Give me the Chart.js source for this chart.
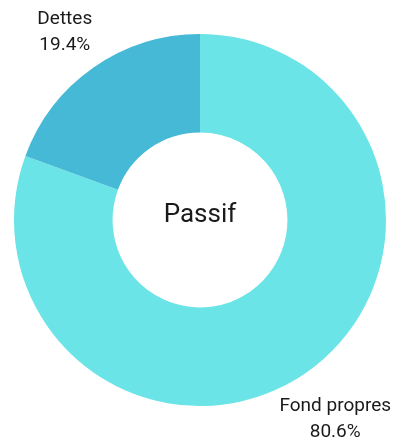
<!DOCTYPE html>
<html>
<head>
<meta charset="utf-8">
<script src="https://cdn.jsdelivr.net/npm/chart.js@4"></script>
<style>
  html, body { margin: 0; padding: 0; background: #fff; }
  #wrap { width: 402px; height: 446px; }
</style>
</head>
<body>
<div id="wrap"><canvas id="graficoPassif"></canvas></div>
<script>
const etiquetas = ['Fond propres', 'Dettes'];
const valores = [80.6, 19.4];
const colores = ['#6be4e7', '#45b9d6'];
const titreCentre = 'Passif';

const fuente = 'Roboto, "DejaVu Sans", sans-serif';

// texte au centre + etiquettes exterieures
const pluginTextes = {
  id: 'textes',
  afterDraw(chart) {
    const ctx = chart.ctx;
    const meta = chart.getDatasetMeta(0);
    ctx.save();
    ctx.fillStyle = '#1a1a1a';
    ctx.textAlign = 'center';
    ctx.textBaseline = 'middle';

    const arc0 = meta.data[0];
    ctx.font = '26px ' + fuente;
    ctx.fillText(titreCentre, arc0.x, arc0.y - 5);

    ctx.font = '19px ' + fuente;
    meta.data.forEach((arc, i) => {
      const p = arc.getProps(['x', 'y', 'startAngle', 'endAngle', 'outerRadius'], true);
      const mid = (p.startAngle + p.endAngle) / 2;
      const r = p.outerRadius * 1.27;
      const lx = p.x + Math.cos(mid) * r;
      const ly = p.y + Math.sin(mid) * r + 6;
      ctx.fillText(etiquetas[i], lx, ly - 13);
      ctx.fillText(valores[i].toFixed(1) + '%', lx, ly + 13);
    });
    ctx.restore();
  }
};

new Chart(document.getElementById('graficoPassif'), {
  type: 'doughnut',
  data: {
    labels: etiquetas,
    datasets: [{
      data: valores,
      backgroundColor: colores,
      borderWidth: 0
    }]
  },
  options: {
    responsive: true,
    maintainAspectRatio: false,
    animation: false,
    cutout: '47%',
    layout: { padding: { top: 34, bottom: 40, left: 14, right: 16 } },
    plugins: {
      legend: { display: false },
      tooltip: { enabled: false }
    }
  },
  plugins: [pluginTextes]
});
</script>
</body>
</html>
